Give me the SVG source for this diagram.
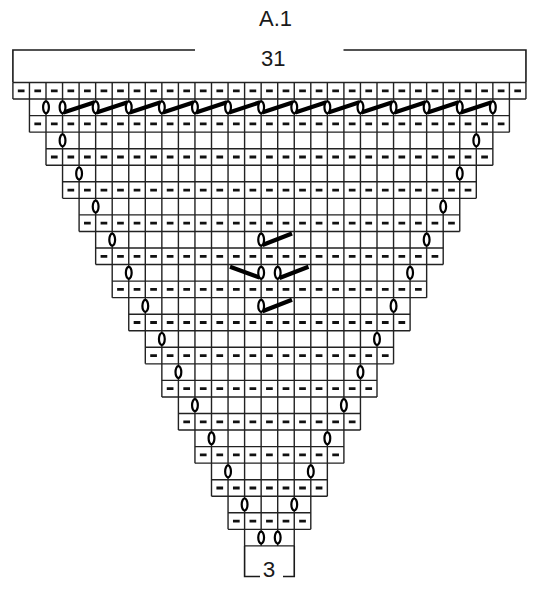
<svg xmlns="http://www.w3.org/2000/svg" width="551" height="600" viewBox="0 0 551 600">
<style>
.t{font-family:"Liberation Sans",Arial,sans-serif;fill:#1a1a1a;text-anchor:middle}
.g{stroke:#222;stroke-width:1.4;fill:none}
.b{stroke:#1a1a1a;stroke-width:1.6;fill:none}
.d{stroke:#111;stroke-width:2.8;stroke-dasharray:6.7 9.85;fill:none}
.k{stroke:#000;stroke-width:4.2;fill:none}
.o{stroke:#000;stroke-width:2.2;fill:#fff}
</style>
<rect width="551" height="600" fill="#fff"/>
<g id="title"><text class="t" x="275.5" y="26" font-size="22">A.1</text></g>
<g id="bracket-top">
<path class="b" d="M12.9 82.5V50H195M343.5 50H525.95V82.5"/>
<text class="t" x="273.3" y="66" font-size="22">31</text>
</g>
<g id="bracket-bottom">
<path class="b" d="M244.6 545.9V576.5H260M283 576.5H294.25V545.9"/>
<text class="t" x="269" y="577" font-size="22.5">3</text>
</g>
<g id="grid">
<path class="g" d="M12.9 82.5H525.95M12.9 99.05H525.95M29.45 115.6H509.4M29.45 132.15H509.4M46 148.7H492.85M46 165.25H492.85M62.55 181.8H476.3M62.55 198.35H476.3M79.1 214.9H459.75M79.1 231.45H459.75M95.65 248H443.2M95.65 264.55H443.2M112.2 281.1H426.65M112.2 297.65H426.65M128.75 314.2H410.1M128.75 330.75H410.1M145.3 347.3H393.55M145.3 363.85H393.55M161.85 380.4H377M161.85 396.95H377M178.4 413.5H360.45M178.4 430.05H360.45M194.95 446.6H343.9M194.95 463.15H343.9M211.5 479.7H327.35M211.5 496.25H327.35M228.05 512.8H310.8M228.05 529.35H310.8M244.6 545.9H294.25"/>
<path class="g" d="M12.9 82.5V99.05M29.45 82.5V132.15M46 82.5V165.25M62.55 82.5V198.35M79.1 82.5V231.45M95.65 82.5V264.55M112.2 82.5V297.65M128.75 82.5V330.75M145.3 82.5V363.85M161.85 82.5V396.95M178.4 82.5V430.05M194.95 82.5V463.15M211.5 82.5V496.25M228.05 82.5V529.35M244.6 82.5V545.9M261.15 82.5V545.9M277.7 82.5V545.9M294.25 82.5V545.9M310.8 82.5V529.35M327.35 82.5V496.25M343.9 82.5V463.15M360.45 82.5V430.05M377 82.5V396.95M393.55 82.5V363.85M410.1 82.5V330.75M426.65 82.5V297.65M443.2 82.5V264.55M459.75 82.5V231.45M476.3 82.5V198.35M492.85 82.5V165.25M509.4 82.5V132.15M525.95 82.5V99.05"/>
</g>
<g id="purl-rows">
<path class="d" d="M17.825 90.775H525.95M34.375 123.875H509.4M50.925 156.975H492.85M67.475 190.075H476.3M84.025 223.175H459.75M100.575 256.275H443.2M117.125 289.375H426.65M133.675 322.475H410.1M150.225 355.575H393.55M166.775 388.675H377M183.325 421.775H360.45M199.875 454.875H343.9M216.425 487.975H327.35M232.975 521.075H310.8"/>
</g>
<g id="connectors">
<path class="k" d="M63.5 112.6L94.6 102.3M96.6 112.6L127.7 102.3M129.7 112.6L160.8 102.3M162.8 112.6L193.9 102.3M195.9 112.6L227 102.3M229 112.6L260.1 102.3M262.1 112.6L293.2 102.3M295.2 112.6L326.3 102.3M328.3 112.6L359.4 102.3M361.4 112.6L392.5 102.3M394.5 112.6L425.6 102.3M427.6 112.6L458.7 102.3M460.7 112.6L491.8 102.3"/>
<path class="k" d="M262.5 245L292 233.5M230 266.8L259.5 277.5M279.5 278L308.5 266.8M262.5 311.2L292 299.7"/>
</g>
<g id="yarn-overs">
<g class="o">
<ellipse cx="46" cy="107.3" rx="2.9" ry="6"/><ellipse cx="62.55" cy="107.3" rx="2.9" ry="6"/><ellipse cx="95.65" cy="107.3" rx="2.9" ry="6"/><ellipse cx="128.75" cy="107.3" rx="2.9" ry="6"/><ellipse cx="161.85" cy="107.3" rx="2.9" ry="6"/><ellipse cx="194.95" cy="107.3" rx="2.9" ry="6"/><ellipse cx="228.05" cy="107.3" rx="2.9" ry="6"/><ellipse cx="261.15" cy="107.3" rx="2.9" ry="6"/><ellipse cx="294.25" cy="107.3" rx="2.9" ry="6"/><ellipse cx="327.35" cy="107.3" rx="2.9" ry="6"/><ellipse cx="360.45" cy="107.3" rx="2.9" ry="6"/><ellipse cx="393.55" cy="107.3" rx="2.9" ry="6"/><ellipse cx="426.65" cy="107.3" rx="2.9" ry="6"/><ellipse cx="459.75" cy="107.3" rx="2.9" ry="6"/><ellipse cx="492.85" cy="107.3" rx="2.9" ry="6"/>
<ellipse cx="62.55" cy="140.4" rx="2.9" ry="6"/><ellipse cx="476.3" cy="140.4" rx="2.9" ry="6"/>
<ellipse cx="79.1" cy="173.5" rx="2.9" ry="6"/><ellipse cx="459.75" cy="173.5" rx="2.9" ry="6"/>
<ellipse cx="95.65" cy="206.6" rx="2.9" ry="6"/><ellipse cx="443.2" cy="206.6" rx="2.9" ry="6"/>
<ellipse cx="112.2" cy="239.7" rx="2.9" ry="6"/><ellipse cx="426.65" cy="239.7" rx="2.9" ry="6"/>
<ellipse cx="128.75" cy="272.8" rx="2.9" ry="6"/><ellipse cx="410.1" cy="272.8" rx="2.9" ry="6"/>
<ellipse cx="145.3" cy="305.9" rx="2.9" ry="6"/><ellipse cx="393.55" cy="305.9" rx="2.9" ry="6"/>
<ellipse cx="161.85" cy="339" rx="2.9" ry="6"/><ellipse cx="377" cy="339" rx="2.9" ry="6"/>
<ellipse cx="178.4" cy="372.1" rx="2.9" ry="6"/><ellipse cx="360.45" cy="372.1" rx="2.9" ry="6"/>
<ellipse cx="194.95" cy="405.2" rx="2.9" ry="6"/><ellipse cx="343.9" cy="405.2" rx="2.9" ry="6"/>
<ellipse cx="211.5" cy="438.3" rx="2.9" ry="6"/><ellipse cx="327.35" cy="438.3" rx="2.9" ry="6"/>
<ellipse cx="228.05" cy="471.4" rx="2.9" ry="6"/><ellipse cx="310.8" cy="471.4" rx="2.9" ry="6"/>
<ellipse cx="244.6" cy="504.5" rx="2.9" ry="6"/><ellipse cx="294.25" cy="504.5" rx="2.9" ry="6"/>
<ellipse cx="261.15" cy="537.6" rx="2.9" ry="6"/><ellipse cx="277.7" cy="537.6" rx="2.9" ry="6"/>
<ellipse cx="261.15" cy="239.7" rx="2.9" ry="6"/>
<ellipse cx="261.15" cy="272.8" rx="2.9" ry="6"/><ellipse cx="277.7" cy="272.8" rx="2.9" ry="6"/>
<ellipse cx="261.15" cy="305.9" rx="2.9" ry="6"/>
</g>
</g>
</svg>
